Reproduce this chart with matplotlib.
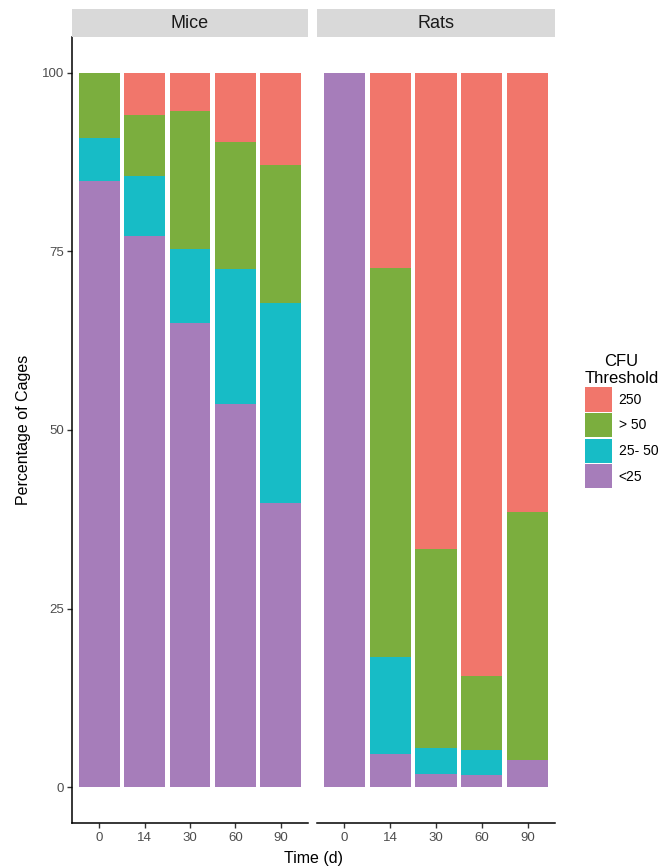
import matplotlib
matplotlib.use("Agg")
import matplotlib.pyplot as plt
from matplotlib.patches import Patch
import numpy as np

plt.rcParams['font.family'] = ['Liberation Sans', 'DejaVu Sans']

times = ["0", "14", "30", "60", "90"]
categories = ["250", "> 50", "25- 50", "<25"]
colors = {"250": "#F1766B", "> 50": "#7BAE3E", "25- 50": "#17BCC6", "<25": "#A67DBA"}

mice_lt25 = [84.9, 77.1, 65.0, 53.6, 39.8]
mice_25_50 = [6.0, 8.5, 10.3, 19.0, 28.0]
mice_gt50 = [9.1, 8.5, 19.4, 17.7, 19.3]
mice_250 = [0.0, 5.9, 5.3, 9.7, 12.9]

rats_lt25 = [100.0, 4.6, 1.9, 1.7, 3.8]
rats_25_50 = [0.0, 13.6, 3.6, 3.5, 0.0]
rats_gt50 = [0.0, 54.5, 27.8, 10.4, 34.7]
rats_250 = [0.0, 27.3, 66.7, 84.4, 61.5]

panels = [("Mice", [mice_lt25, mice_25_50, mice_gt50, mice_250]),
          ("Rats", [rats_lt25, rats_25_50, rats_gt50, rats_250])]
stack_order = ["<25", "25- 50", "> 50", "250"]

W, H = 660, 868
fig = plt.figure(figsize=(W / 100, H / 100), dpi=100)

panel_x = [(72, 308), (317, 555)]
ptop, pbot = 37, 823
strip_top = 9

for i, ((name, series), (x0, x1)) in enumerate(zip(panels, panel_x)):
    ax = fig.add_axes([x0 / W, (H - pbot) / H, (x1 - x0) / W, (pbot - ptop) / H])
    x = np.arange(len(times))
    bottom = np.zeros(len(times))
    for cat, vals in zip(stack_order, series):
        v = np.array(vals)
        ax.bar(x, v, bottom=bottom, width=0.9, color=colors[cat], linewidth=0)
        bottom += v
    ax.set_xlim(-0.6, len(times) - 0.4)
    ax.set_ylim(-5, 105)
    ax.set_xticks(x)
    ax.set_xticklabels(times, fontsize=9.5, color="#4D4D4D")
    ax.set_yticks([0, 25, 50, 75, 100])
    for s in ["top", "right"]:
        ax.spines[s].set_visible(False)
    ax.spines["bottom"].set_linewidth(1.1)
    ax.spines["left"].set_linewidth(1.1)
    ax.tick_params(axis="x", length=3.5, width=1, color="#333333", pad=3)
    ax.tick_params(axis="y", length=3.5, width=1, color="#333333", labelsize=9.5, labelcolor="#4D4D4D", pad=2)
    if i == 1:
        ax.spines["left"].set_visible(False)
        ax.tick_params(axis="y", left=False, labelleft=False)
    else:
        ax.set_ylabel("Percentage of Cages", fontsize=11.5, labelpad=8)
    sax = fig.add_axes([x0 / W, (H - ptop) / H, (x1 - x0) / W, (ptop - strip_top) / H])
    sax.set_facecolor("#D9D9D9")
    sax.set_xticks([]); sax.set_yticks([])
    for s in sax.spines.values():
        s.set_visible(False)
    sax.text(0.5, 0.5, name, ha="center", va="center", fontsize=13, color="#1A1A1A", transform=sax.transAxes)

fig.text((72 + 555) / 2 / W, 1 - 858 / H, "Time (d)", ha="center", va="center", fontsize=11.5)

handles = [Patch(facecolor=colors[c], edgecolor="none") for c in categories]
leg = fig.legend(handles, categories, title="CFU\nThreshold", loc="center left",
                 bbox_to_anchor=(579 / W, 1 - 421 / H), frameon=False, fontsize=10,
                 title_fontsize=12, handlelength=1.9, handleheight=2.3,
                 labelspacing=0.1, handletextpad=0.5, borderaxespad=0,
                 alignment="center")
leg.get_title().set_multialignment("center")

fig.savefig("out.png", dpi=100)
